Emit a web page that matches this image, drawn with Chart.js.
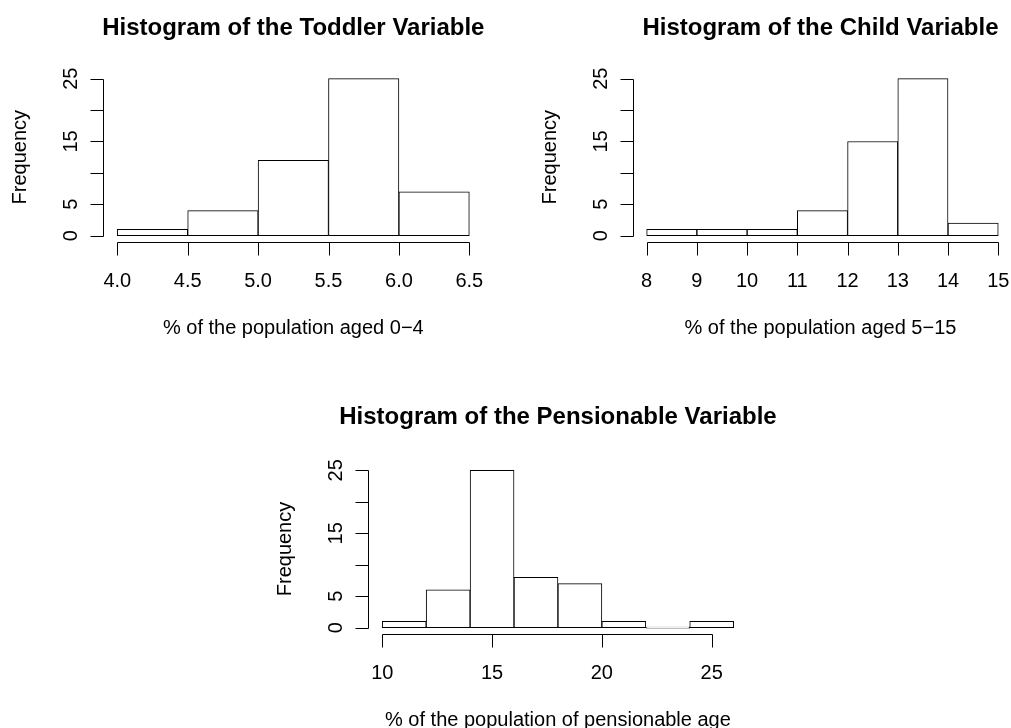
<!DOCTYPE html>
<html>
<head>
<meta charset="utf-8">
<title>Histograms</title>
<script src="https://cdn.jsdelivr.net/npm/chart.js@4.4.1/dist/chart.umd.min.js"></script>
<style>
  body { margin: 0; background: #fff; }
  #page { position: relative; width: 1011px; height: 728px; overflow: hidden; }
  #page canvas { position: absolute; }
</style>
</head>
<body>
<div id="page">
  <canvas id="toddler" width="505" height="364" style="left:0px;top:0px"></canvas>
  <canvas id="child" width="506" height="364" style="left:505px;top:0px"></canvas>
  <canvas id="pension" width="1011" height="364" style="left:0px;top:364px"></canvas>
</div>
<script>
// bin edges and counts
var toddlerBreaks = [4.0, 4.5, 5.0, 5.5, 6.0, 6.5];
var toddlerCounts = [1, 4, 12, 25, 7];
var toddlerTicks = [4.0, 4.5, 5.0, 5.5, 6.0, 6.5];
var toddlerTickLabels = ['4.0', '4.5', '5.0', '5.5', '6.0', '6.5'];

var childBreaks = [8, 9, 10, 11, 12, 13, 14, 15];
var childCounts = [1, 1, 1, 4, 15, 25, 2];
var childTicks = [8, 9, 10, 11, 12, 13, 14, 15];
var childTickLabels = ['8', '9', '10', '11', '12', '13', '14', '15'];

var pensionBreaks = [10, 12, 14, 16, 18, 20, 22, 24, 26];
var pensionCounts = [1, 6, 25, 8, 7, 1, 0, 1];
var pensionTicks = [10, 15, 20, 25];
var pensionTickLabels = ['10', '15', '20', '25'];

// R drops the 10 and 20 labels because they would overlap
var freqTicks = [0, 5, 10, 15, 20, 25];
var freqTickLabels = ['0', '5', '', '15', '', '25'];

var FONT = '"Liberation Sans", Arial, Helvetica, sans-serif';

function toBins(breaks, counts) {
    return counts.map(function (c, i) {
        return { x: (breaks[i] + breaks[i + 1]) / 2, y: c };
    });
}

// draws base-graphics style axes, detached from the bars
var rStyleAxes = {
    id: 'rStyleAxes',
    afterDraw: function (chart, args, opts) {
        var ctx = chart.ctx;
        var area = chart.chartArea;
        var xs = chart.scales.x;
        var ys = chart.scales.y;
        var crisp = function (v) { return Math.round(v) + 0.5; };
        var tick = 13;

        ctx.save();
        ctx.strokeStyle = '#000';
        ctx.fillStyle = '#000';
        ctx.lineWidth = 1;

        // y axis
        var ax = crisp(area.left);
        ctx.beginPath();
        ctx.moveTo(ax, crisp(ys.getPixelForValue(freqTicks[0])));
        ctx.lineTo(ax, crisp(ys.getPixelForValue(freqTicks[freqTicks.length - 1])));
        freqTicks.forEach(function (v) {
            var py = crisp(ys.getPixelForValue(v));
            ctx.moveTo(ax, py);
            ctx.lineTo(ax - tick, py);
        });

        // x axis
        var ay = crisp(area.bottom);
        ctx.moveTo(crisp(xs.getPixelForValue(opts.ticks[0])), ay);
        ctx.lineTo(crisp(xs.getPixelForValue(opts.ticks[opts.ticks.length - 1])), ay);
        opts.ticks.forEach(function (v) {
            var px = crisp(xs.getPixelForValue(v));
            ctx.moveTo(px, ay);
            ctx.lineTo(px, ay + tick);
        });
        ctx.stroke();

        // tick labels
        ctx.font = '20px ' + FONT;
        ctx.textAlign = 'center';
        ctx.textBaseline = 'alphabetic';
        opts.ticks.forEach(function (v, i) {
            ctx.fillText(opts.labels[i], xs.getPixelForValue(v), area.bottom + 44.5);
        });
        freqTicks.forEach(function (v, i) {
            if (!freqTickLabels[i]) return;
            ctx.save();
            ctx.translate(area.left - 26, ys.getPixelForValue(v));
            ctx.rotate(-Math.PI / 2);
            ctx.fillText(freqTickLabels[i], 0, 0);
            ctx.restore();
        });

        // axis titles
        var midX = (area.left + area.right) / 2;
        ctx.fillText(opts.xlab, midX, area.bottom + 92);
        ctx.save();
        ctx.translate(area.left - 77, (area.top + area.bottom) / 2);
        ctx.rotate(-Math.PI / 2);
        ctx.fillText('Frequency', 0, 0);
        ctx.restore();

        // main title
        ctx.font = 'bold 24px ' + FONT;
        ctx.fillText(opts.title, midX, area.top - opts.titleGap);
        ctx.restore();
    }
};

function makeHistogram(id, breaks, counts, xMin, xMax, padding, axisOpts) {
    var ticks = axisOpts.ticks;
    return new Chart(document.getElementById(id), {
        type: 'bar',
        data: {
            datasets: [{
                data: toBins(breaks, counts),
                backgroundColor: '#ffffff',
                borderColor: '#000000',
                borderWidth: 1,
                borderSkipped: false,
                minBarLength: 1,
                barPercentage: 1,
                categoryPercentage: 1
            }]
        },
        options: {
            responsive: false,
            animation: false,
            events: [],
            layout: { padding: padding, autoPadding: false },
            scales: {
                x: {
                    type: 'linear',
                    min: xMin,
                    max: xMax,
                    offset: false,
                    display: false,
                    afterBuildTicks: function (scale) {
                        scale.ticks = ticks.map(function (v) { return { value: v }; });
                    }
                },
                y: {
                    type: 'linear',
                    min: -1,
                    max: 26,
                    display: false
                }
            },
            plugins: {
                legend: { display: false },
                tooltip: { enabled: false },
                rStyleAxes: axisOpts
            }
        },
        plugins: [rStyleAxes]
    });
}

makeHistogram('toddler', toddlerBreaks, toddlerCounts, 3.9, 6.6,
    { left: 103.2, right: 21.6, top: 72.4, bottom: 122 },
    {
        ticks: toddlerTicks, labels: toddlerTickLabels,
        title: 'Histogram of the Toddler Variable',
        xlab: '% of the population aged 0\u22124',
        titleGap: 37.5
    });

makeHistogram('child', childBreaks, childCounts, 7.72, 15.2,
    { left: 127.6, right: 2.7, top: 72.4, bottom: 122 },
    {
        ticks: childTicks, labels: childTickLabels,
        title: 'Histogram of the Child Variable',
        xlab: '% of the population aged 5\u221215',
        titleGap: 37.5
    });

makeHistogram('pension', pensionBreaks, pensionCounts, 9.36, 26.64,
    { left: 368.2, right: 263.3, top: 100, bottom: 94 },
    {
        ticks: pensionTicks, labels: pensionTickLabels,
        title: 'Histogram of the Pensionable Variable',
        xlab: '% of the population of pensionable age',
        titleGap: 40
    });
</script>
</body>
</html>
